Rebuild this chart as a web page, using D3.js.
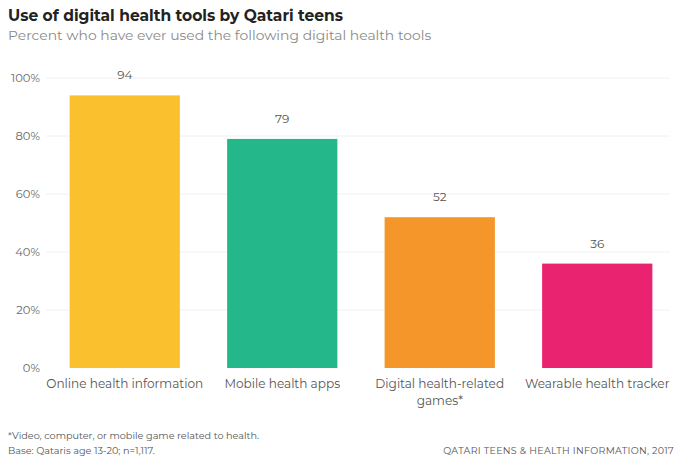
<!DOCTYPE html>
<html>
<head>
<meta charset="utf-8">
<script src="https://cdn.jsdelivr.net/npm/d3@7"></script>
<style>
  body { margin: 0; background: #fff; }
  text { font-family: "Montserrat", "Lato", "Open Sans", sans-serif; }
</style>
</head>
<body>
<div id="root"></div>
<script>
// Data
var categories = [['Online health information'], ['Mobile health apps'], ['Digital health-related', 'games*'], ['Wearable health tracker']];
var values = [94, 79, 52, 36];
var colors = ['#FBC02D', '#23B78A', '#F5962A', '#EA2370'];
var yTicks = [0, 20, 40, 60, 80, 100];

var width = 677;
var height = 460;

var svg = d3.select('#root')
  .append('svg')
    .attr('width', width)
    .attr('height', height);

var x = d3.scaleBand()
  .domain(d3.range(values.length))
  .range([46, 676])
  .paddingInner(0.3)
  .paddingOuter(0.15);

var y = d3.scaleLinear()
  .domain([0, 100])
  .range([368, 78]);

// faint gridlines
svg.selectAll('line.grid')
  .data(yTicks.slice(1))
  .enter()
  .append('line')
    .attr('class', 'grid')
    .attr('x1', 46)
    .attr('x2', 670)
    .attr('y1', function(d) { return y(d); })
    .attr('y2', function(d) { return y(d); })
    .style('stroke', '#f0f0f0')
    .style('stroke-width', 1);

// y axis labels
var yAxis = d3.axisLeft(y)
  .tickValues(yTicks)
  .tickSize(0)
  .tickPadding(0)
  .tickFormat(function(d) { return d + '%'; });

var gy = svg.append('g')
  .attr('transform', 'translate(40,0)')
  .call(yAxis);
gy.select('.domain').remove();
gy.selectAll('text')
  .style('font-size', '11.5px')
  .style('fill', '#6a6a6a');

// bars
svg.selectAll('rect.bar')
  .data(values)
  .enter()
  .append('rect')
    .attr('class', 'bar')
    .attr('x', function(d, i) { return x(i); })
    .attr('y', function(d) { return y(d); })
    .attr('width', x.bandwidth())
    .attr('height', function(d) { return y(0) - y(d); })
    .style('fill', function(d, i) { return colors[i]; });

// value labels
svg.selectAll('text.val')
  .data(values)
  .enter()
  .append('text')
    .attr('class', 'val')
    .attr('x', function(d, i) { return x(i) + x.bandwidth() / 2; })
    .attr('y', function(d) { return y(d) - 16; })
    .attr('text-anchor', 'middle')
    .style('font-size', '12px')
    .style('fill', '#555')
    .text(function(d) { return d; });

// category labels
var cat = svg.selectAll('text.cat')
  .data(categories)
  .enter()
  .append('text')
    .attr('class', 'cat')
    .attr('text-anchor', 'middle')
    .attr('y', 388)
    .style('font-size', '12.1px')
    .style('fill', '#555');
cat.selectAll('tspan')
  .data(function(d, i) { return d.map(function(t) { return {t: t, i: i}; }); })
  .enter()
  .append('tspan')
    .attr('x', function(d) { return x(d.i) + x.bandwidth() / 2; })
    .attr('dy', function(d, j) { return j === 0 ? 0 : 17; })
    .text(function(d) { return d.t; });

// title
svg.append('text')
  .attr('x', 8)
  .attr('y', 21)
  .style('font-size', '15.5px')
  .style('font-weight', 'bold')
  .style('fill', '#222')
  .text('Use of digital health tools by Qatari teens');

svg.append('text')
  .attr('x', 8)
  .attr('y', 40)
  .style('font-size', '13.9px')
  .style('fill', '#8a8a8a')
  .text('Percent who have ever used the following digital health tools');

// footnotes
svg.append('text')
  .attr('x', 8)
  .attr('y', 439)
  .style('font-size', '9.7px')
  .style('fill', '#555')
  .text('*Video, computer, or mobile game related to health.');

svg.append('text')
  .attr('x', 8)
  .attr('y', 454)
  .style('font-size', '9.7px')
  .style('fill', '#555')
  .text('Base: Qataris age 13-20; n=1,117.');

svg.append('text')
  .attr('x', 674)
  .attr('y', 454)
  .attr('text-anchor', 'end')
  .style('font-size', '9.5px')
  .style('letter-spacing', '0.3px')
  .style('fill', '#555')
  .text('QATARI TEENS & HEALTH INFORMATION, 2017');
</script>
</body>
</html>
